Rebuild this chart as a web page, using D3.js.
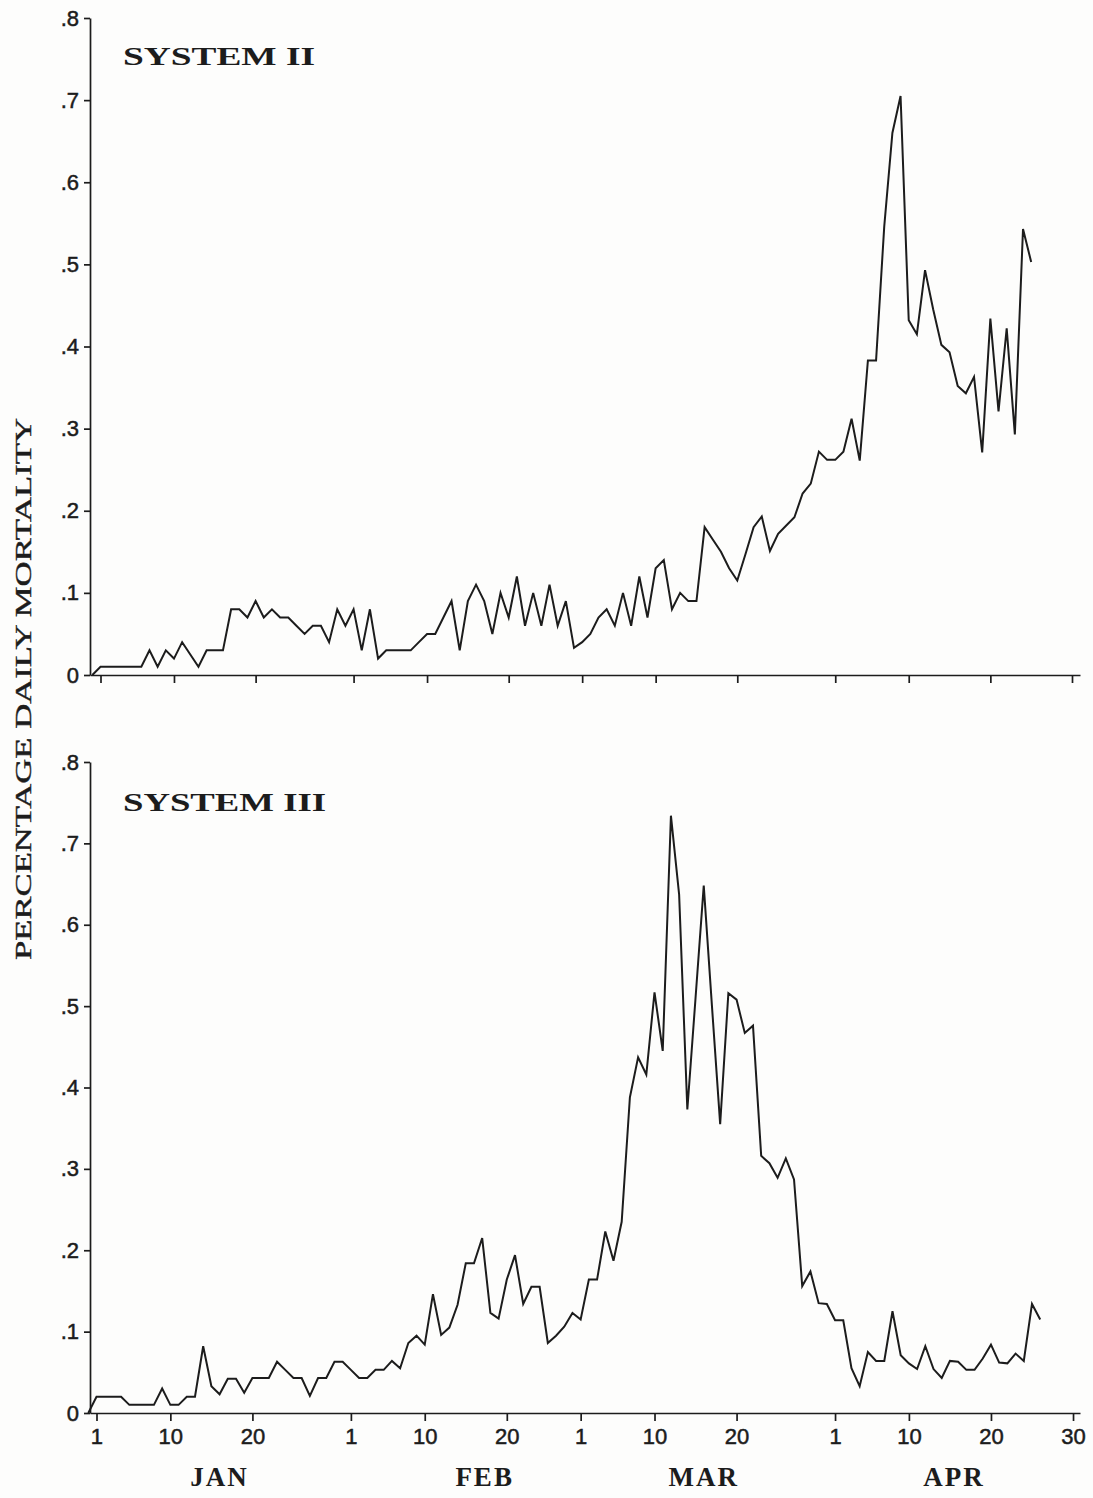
<!DOCTYPE html>
<html>
<head>
<meta charset="utf-8">
<script src="https://cdn.jsdelivr.net/npm/d3@7"></script>
<style>
  html, body { margin: 0; padding: 0; background: #fdfdfc; }
  svg { display: block; }
</style>
</head>
<body>
<svg id="chart" width="1093" height="1498"></svg>
<script>
// ---------------- DATA ----------------
// Day offsets from 1 January (index 0 = day -1, i.e. the series starts at the axis origin)
const startDay = -1;

// System II percentage daily mortality (one value per day starting at startDay)
const system2Mortality = [
  0,
  0.01, 0.01, 0.01, 0.01, 0.01, 0.01, 0.03, 0.01, 0.03, 0.02,
  0.04, 0.025, 0.01, 0.03, 0.03, 0.03, 0.08, 0.08, 0.07, 0.09,
  0.07, 0.08, 0.07, 0.07, 0.06, 0.05, 0.06, 0.06, 0.04, 0.08,
  0.06, 0.08, 0.03, 0.08, 0.02, 0.03, 0.03, 0.03, 0.03, 0.04,
  0.05, 0.05, 0.07, 0.09, 0.03, 0.09, 0.11, 0.09, 0.05, 0.10,
  0.07, 0.12, 0.06, 0.10, 0.06, 0.11, 0.06, 0.09, 0.033, 0.04,
  0.05, 0.07, 0.08, 0.06, 0.10, 0.06, 0.12, 0.07, 0.13, 0.14,
  0.08, 0.10, 0.09, 0.09, 0.18, 0.165, 0.15, 0.13, 0.115, 0.147,
  0.18, 0.193, 0.151, 0.172, 0.182, 0.192, 0.221, 0.233, 0.272, 0.262,
  0.262, 0.272, 0.312, 0.261, 0.383, 0.383, 0.546, 0.66, 0.705, 0.432,
  0.415, 0.493, 0.445, 0.402, 0.393, 0.352, 0.343, 0.363, 0.271, 0.434,
  0.321, 0.422, 0.293, 0.543, 0.503
];

// System III percentage daily mortality
const system3Mortality = [
  0,
  0.02, 0.02, 0.02, 0.02, 0.01, 0.01, 0.01, 0.01, 0.03, 0.01,
  0.01, 0.02, 0.02, 0.082, 0.033, 0.023, 0.042, 0.042, 0.025, 0.043,
  0.043, 0.043, 0.063, 0.053, 0.043, 0.043, 0.021, 0.043, 0.043, 0.063,
  0.063, 0.053, 0.043, 0.043, 0.053, 0.053, 0.064, 0.055, 0.086, 0.095,
  0.084, 0.146, 0.096, 0.105, 0.133, 0.184, 0.184, 0.215, 0.123, 0.116,
  0.164, 0.194, 0.134, 0.155, 0.155, 0.086, 0.095, 0.106, 0.123, 0.115,
  0.164, 0.164, 0.223, 0.187, 0.235, 0.388, 0.437, 0.416, 0.517, 0.445,
  0.734, 0.637, 0.373, 0.51, 0.648, 0.50, 0.355, 0.516, 0.508, 0.467,
  0.476, 0.316, 0.307, 0.289, 0.313, 0.287, 0.156, 0.174, 0.135, 0.134,
  0.114, 0.114, 0.055, 0.033, 0.075, 0.064, 0.064, 0.125, 0.071, 0.061,
  0.054, 0.082, 0.054, 0.043, 0.064, 0.063, 0.053, 0.053, 0.067, 0.084,
  0.062, 0.061, 0.073, 0.064, 0.134, 0.115
];

// x-axis ticks (day offset from 1 Jan) and their labels
const xTickDays   = [0, 9, 19, 31, 40, 50, 59, 68, 78, 90, 99, 109, 119];
const xTickLabels = ["1", "10", "20", "1", "10", "20", "1", "10", "20", "1", "10", "20", "30"];

// month labels and the day they are centred on
const monthLabels = ["JAN", "FEB", "MAR", "APR"];
const monthDays   = [15, 47.3, 74, 104.5];

// y-axis ticks and labels
const yTicks      = [0, 0.1, 0.2, 0.3, 0.4, 0.5, 0.6, 0.7, 0.8];
const yTickLabels = ["0", ".1", ".2", ".3", ".4", ".5", ".6", ".7", ".8"];

const panelTitles = ["SYSTEM II", "SYSTEM III"];
const yAxisTitle  = "PERCENTAGE DAILY MORTALITY";

// ---------------- DRAW ----------------
const svg = d3.select("#chart");
const ink = "#1c1c1c";

const panels = [
  { title: panelTitles[0], values: system2Mortality,
    x: d3.scaleLinear().domain([-1.286, 119.98]).range([90, 1080]),
    y: d3.scaleLinear().domain([0, 0.8]).range([675, 18]),
    titleX: 123, titleY: 65, titleW: 192, labels: false },
  { title: panelTitles[1], values: system3Mortality,
    x: d3.scaleLinear().domain([-0.792, 119.85]).range([90, 1080]),
    y: d3.scaleLinear().domain([0, 0.8]).range([1413, 762]),
    titleX: 123, titleY: 811, titleW: 203, labels: true }
];

panels.forEach(p => {
  const g = svg.append("g");
  const y0 = p.y.range()[0];
  const x0 = p.x.range()[0];

  // x axis
  const xAxis = d3.axisBottom(p.x)
    .tickValues(xTickDays)
    .tickSize(8)
    .tickSizeOuter(0)
    .tickPadding(7)
    .tickFormat((d, i) => p.labels ? xTickLabels[i] : "");
  const gx = g.append("g").attr("transform", `translate(0,${y0})`).call(xAxis);

  // y axis
  const yAxis = d3.axisLeft(p.y)
    .tickValues(yTicks)
    .tickSize(6)
    .tickSizeOuter(0)
    .tickPadding(5)
    .tickFormat((d, i) => yTickLabels[i]);
  const gy = g.append("g").attr("transform", `translate(${x0},0)`).call(yAxis);

  [gx, gy].forEach(ax => {
    ax.select(".domain").attr("stroke", ink).attr("stroke-width", 1.7);
    ax.selectAll(".tick line").attr("stroke", ink).attr("stroke-width", 1.7);
    ax.selectAll(".tick text")
      .attr("fill", ink)
      .attr("stroke", ink)
      .attr("stroke-width", 0.5)
      .style("font-family", "'Liberation Sans', Arial, Helvetica, sans-serif")
      .style("font-size", "22px");
  });

  // data line
  const line = d3.line()
    .x((d, i) => p.x(startDay + i))
    .y(d => p.y(d));
  g.append("path")
    .datum(p.values)
    .attr("d", line)
    .attr("fill", "none")
    .attr("stroke", ink)
    .attr("stroke-width", 2)
    .attr("stroke-linejoin", "miter");

  // panel title
  g.append("text")
    .attr("x", p.titleX)
    .attr("y", p.titleY)
    .attr("textLength", p.titleW)
    .attr("lengthAdjust", "spacingAndGlyphs")
    .attr("fill", ink)
    .style("font-family", "'Liberation Serif', 'DejaVu Serif', serif")
    .style("font-weight", "bold")
    .style("font-size", "25px")
    .text(p.title);

  // month labels under the bottom panel
  if (p.labels) {
    monthLabels.forEach((m, i) => {
      g.append("text")
        .attr("x", p.x(monthDays[i]))
        .attr("y", 1486)
        .attr("text-anchor", "middle")
        .attr("fill", ink)
        .style("font-family", "'Liberation Serif', 'DejaVu Serif', serif")
        .style("font-weight", "bold")
        .style("font-size", "27px")
        .style("letter-spacing", "2px")
        .text(m);
    });
  }
});

// y-axis title
svg.append("text")
  .attr("transform", "translate(31,689) rotate(-90)")
  .attr("text-anchor", "middle")
  .attr("textLength", 542)
  .attr("lengthAdjust", "spacingAndGlyphs")
  .attr("fill", ink)
  .attr("stroke", ink)
  .attr("stroke-width", 0.4)
  .style("font-family", "'Liberation Serif', 'DejaVu Serif', serif")
  .style("font-size", "24px")
  .text(yAxisTitle);
</script>
</body>
</html>
